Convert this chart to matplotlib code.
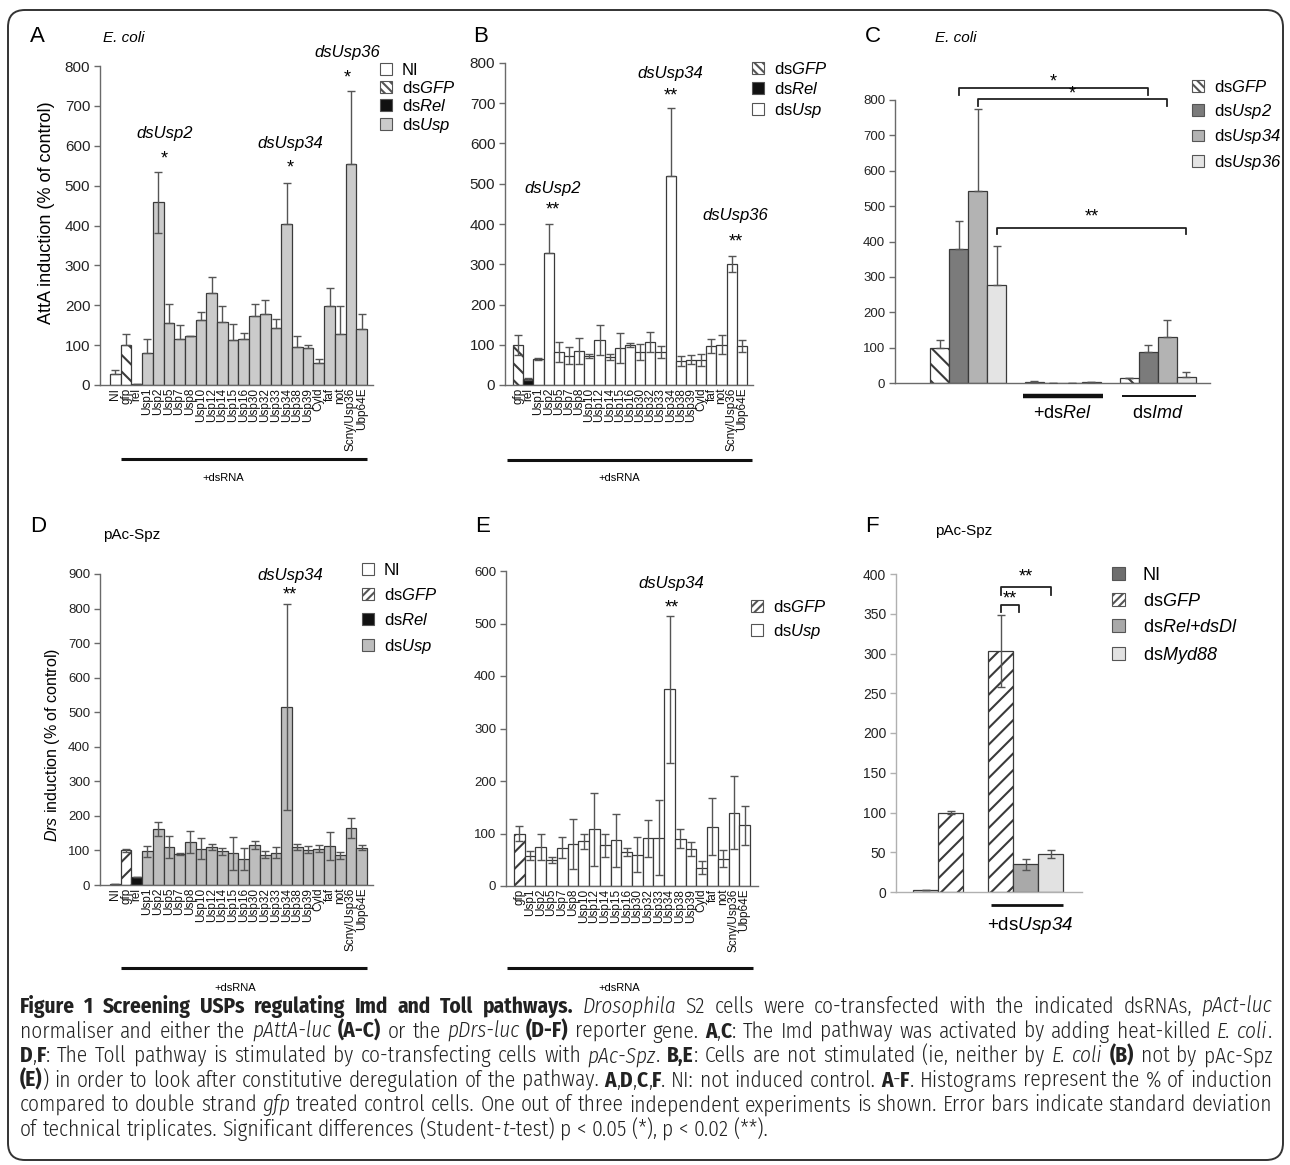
import numpy as np
import matplotlib
matplotlib.use('Agg')
import matplotlib.pyplot as plt
from matplotlib.patches import Patch, FancyBboxPatch
from matplotlib.transforms import IdentityTransform
from matplotlib import font_manager

W, H = 1290, 1165

plt.rcParams['font.family'] = ['Liberation Sans', 'DejaVu Sans']
plt.rcParams['mathtext.fontset'] = 'custom'
plt.rcParams['mathtext.rm'] = 'Liberation Sans'
plt.rcParams['mathtext.it'] = 'Liberation Sans:italic'
plt.rcParams['mathtext.sf'] = 'Liberation Sans:italic'   # used for italic gene names (digits too)
plt.rcParams['mathtext.bf'] = 'Liberation Sans:bold'
plt.rcParams['hatch.linewidth'] = 1.5

# ---------------- data ----------------
genes_A = ['NI', 'gfp', 'rel', 'Usp1', 'Usp2', 'Usp5', 'Usp7', 'Usp8', 'Usp10', 'Usp12',
           'Usp14', 'Usp15', 'Usp16', 'Usp30', 'Usp32', 'Usp33', 'Usp34', 'Usp38', 'Usp39',
           'Cyld', 'faf', 'not', 'Scny/Usp36', 'Ubp64E']
A_vals = [27, 100, 3, 80, 458, 156, 115, 122, 162, 230, 159, 113, 115, 172, 177, 143, 405,
          95, 93, 55, 197, 128, 555, 140]
A_err_up = [10, 28, 0, 36, 76, 46, 35, 0, 22, 40, 38, 40, 16, 30, 35, 22, 101, 27, 7, 11,
            46, 69, 182, 38]
A_err_lo = [0, 0, 0, 0, 77, 0, 0, 0, 0, 0, 0, 0, 0, 0, 0, 0, 0, 0, 0, 0, 0, 0, 0, 0]

genes_B = genes_A[1:]
B_vals = [100, 15, 65, 327, 82, 73, 85, 73, 112, 70, 91, 100, 82, 106, 82, 520, 60, 63, 62,
          97, 100, 300, 97]
B_err_up = [25, 2, 2, 73, 25, 22, 33, 5, 37, 8, 37, 5, 20, 25, 15, 168, 12, 12, 15, 17, 24,
            20, 15]
B_err_lo = [25, 2, 2, 0, 25, 22, 33, 5, 37, 8, 37, 5, 20, 25, 15, 0, 12, 12, 15, 17, 24,
            20, 15]

C_groups = ['', '+ds$\\mathsf{Rel}$', 'ds$\\mathsf{Imd}$']
C_series = ['ds$\\mathsf{GFP}$', 'ds$\\mathsf{Usp2}$', 'ds$\\mathsf{Usp34}$', 'ds$\\mathsf{Usp36}$']
C_vals = [[100, 3, 15], [380, 0, 89], [544, 0, 130], [276, 2, 16]]
C_err = [[22, 2, 0], [78, 0, 19], [231, 0, 49], [112, 0, 14]]

genes_D = genes_A
D_vals = [3, 100, 22, 98, 162, 110, 90, 125, 105, 110, 97, 92, 75, 115, 87, 93, 515, 110,
          102, 105, 112, 86, 165, 108]
D_err = [0, 5, 0, 16, 21, 33, 3, 31, 30, 8, 10, 48, 32, 12, 10, 16, 298, 8, 10, 10, 40, 10,
         30, 7]

genes_E = ['gfp'] + genes_A[3:]
E_vals = [100, 58, 75, 50, 73, 80, 85, 108, 78, 87, 65, 60, 91, 92, 375, 90, 70, 35, 113,
          52, 140, 116]
E_err = [15, 8, 25, 6, 20, 48, 15, 70, 22, 50, 8, 33, 35, 71, 140, 18, 13, 13, 54, 16, 69,
         37]

F_series = ['NI', 'ds$\\mathsf{GFP}$', 'ds$\\mathsf{Rel}$$\\mathsf{+dsDl}$', 'ds$\\mathsf{Myd88}$']
F_group1 = [2, 100]          # NI, dsGFP
F_group1_err = [0, 2]
F_group2 = [303, 35, 48]     # dsGFP, dsRel+dsDl, dsMyd88 (+dsUsp34)
F_group2_err = [45, 7, 5]

caption_lines = [
    [('Figure 1 Screening USPs regulating Imd and Toll pathways.', 'b'), (' ', 'n'),
     ('Drosophila', 'i'), (' S2 cells were co-transfected with the indicated dsRNAs, ', 'n'),
     ('pAct-luc', 'i')],
    [('normaliser and either the ', 'n'), ('pAttA-luc', 'i'), (' ', 'n'), ('(A-C)', 'b'),
     (' or the ', 'n'), ('pDrs-luc', 'i'), (' ', 'n'), ('(D-F)', 'b'), (' reporter gene. ', 'n'),
     ('A', 'b'), (',', 'n'), ('C', 'b'),
     (': The Imd pathway was activated by adding heat-killed ', 'n'), ('E. coli', 'i'), ('.', 'n')],
    [('D', 'b'), (',', 'n'), ('F', 'b'),
     (': The Toll pathway is stimulated by co-transfecting cells with ', 'n'), ('pAc-Spz', 'i'),
     ('. ', 'n'), ('B,E', 'b'), (': Cells are not stimulated (ie, neither by ', 'n'),
     ('E. coli', 'i'), (' ', 'n'), ('(B)', 'b'), (' not by pAc-Spz', 'n')],
    [('(E)', 'b'), (') in order to look after constitutive deregulation of the pathway. ', 'n'),
     ('A', 'b'), (',', 'n'), ('D', 'b'), (',', 'n'), ('C', 'b'), (',', 'n'), ('F', 'b'),
     ('. NI: not induced control. ', 'n'), ('A', 'b'), ('-', 'n'), ('F', 'b'),
     ('. Histograms represent the % of induction', 'n')],
    [('compared to double strand ', 'n'), ('gfp', 'i'),
     (' treated control cells. One out of three independent experiments is shown. '
      'Error bars indicate standard deviation', 'n')],
    [('of technical triplicates. Significant differences (Student-', 'n'), ('t', 'i'),
     ('-test) p < 0.05 (*), p < 0.02 (**).', 'n')],
]

# ---------------- helpers ----------------
AX_COL = '#6a6a6a'
EDGE = '#3a3a3a'
ERR = '#555555'

fig = plt.figure(figsize=(W / 100, H / 100), dpi=100)


def px_axes(l, t, r, b):
    return fig.add_axes([l / W, 1 - b / H, (r - l) / W, (b - t) / H])


def ftext(x, y, s, **kw):
    return fig.text(x / W, 1 - y / H, s, **kw)


def base_axes(ax, ymax, step, ysize, col=AX_COL):
    for s in ('top', 'right'):
        ax.spines[s].set_visible(False)
    for s in ('left', 'bottom'):
        ax.spines[s].set_color(col)
        ax.spines[s].set_linewidth(1.0)
    ax.set_ylim(0, ymax)
    ax.set_yticks(np.arange(0, ymax + 1, step))
    ax.tick_params(axis='y', length=4, width=1, color=col, labelsize=ysize,
                   labelcolor='#222222', pad=3)
    ax.tick_params(axis='x', length=0, pad=2, labelcolor='#111111')
    ax.patch.set_alpha(0)


def screen_bars(ax, genes, vals, lo, up, usp_col, gfp_hatch, xlim):
    x = np.arange(len(genes))
    fills, hatches = [], []
    for g in genes:
        if g == 'NI':
            fills.append('white'); hatches.append('')
        elif g == 'gfp':
            fills.append('white'); hatches.append(gfp_hatch)
        elif g == 'rel':
            fills.append('#111111'); hatches.append('')
        else:
            fills.append(usp_col); hatches.append('')
    bars = ax.bar(x, vals, width=1.0, color=fills, edgecolor=EDGE, linewidth=0.9, zorder=2)
    for b, h in zip(bars, hatches):
        b.set_hatch(h)
    ax.errorbar(x, vals, yerr=[lo, up], fmt='none', ecolor=ERR, elinewidth=1,
                capsize=3, capthick=1, zorder=3)
    ax.set_xticks(x)
    ax.set_xticklabels(genes, rotation=90, fontsize=8.5)
    ax.set_xlim(*xlim)
    return x


def mark(ax, xi, label, star, ylab, ystar, size=12):
    if label:
        ax.text(xi, ylab, label, style='italic', ha='center', va='center', fontsize=size,
                clip_on=False)
    ax.text(xi, ystar, star, ha='center', va='center', fontsize=13, clip_on=False)


def underline(ax, x0, x1, y, lw, label, lx, ly, size=8):
    tr = ax.get_xaxis_transform()
    ax.plot([x0, x1], [y, y], color='#111111', lw=lw, transform=tr, clip_on=False,
            solid_capstyle='butt')
    ax.text(lx, ly, label, transform=tr, ha='center', va='center', fontsize=size)


def legend(ax, items, x, y, size, spacing, pad=0.6):
    handles = [Patch(facecolor=f, edgecolor='#555555', hatch=h, linewidth=0.8, label=l)
               for l, f, h in items]
    ax.legend(handles=handles, loc='upper left', bbox_to_anchor=(x / W, 1 - y / H),
              bbox_transform=fig.transFigure, frameon=False, fontsize=size,
              handlelength=0.7, handleheight=0.7, handletextpad=pad,
              labelspacing=spacing, borderpad=0, borderaxespad=0)


def bracket(ax, x0, x1, y, leg, star, ystar):
    ax.plot([x0, x0, x1, x1], [y - leg, y, y, y - leg], color='#222222', lw=1.3,
            clip_on=False)
    ax.text((x0 + x1) / 2, ystar, star, ha='center', va='center', fontsize=13, clip_on=False)


# ---------------- panel A ----------------
axA = px_axes(100, 66, 373, 385)
base_axes(axA, 800, 100, 11)
xA = screen_bars(axA, genes_A, A_vals, A_err_lo, A_err_up, '#cbcbcb', '\\\\', (-1.43, 24.06))
mark(axA, xA[genes_A.index('Usp2')] + 0.6, 'dsUsp2', '*', 630, 566)
mark(axA, xA[genes_A.index('Usp34')] + 0.3, 'dsUsp34', '*', 605, 545)
mark(axA, xA[genes_A.index('Scny/Usp36')] - 0.3, 'dsUsp36', '*', 833, 771)
underline(axA, 0.5, 23.5, -0.232, 2.2, '+dsRNA', 10.1, -0.29)
legend(axA, [('NI', 'white', ''), ('ds$\\mathsf{GFP}$', 'white', '\\\\\\\\'),
             ('ds$\\mathsf{Rel}$', '#111111', ''), ('ds$\\mathsf{Usp}$', '#cbcbcb', '')],
       380, 63, 12, 0.12)
ftext(47, 213, 'AttA induction (% of control)', rotation=90, ha='center', va='center',
      fontsize=13)

# ---------------- panel B ----------------
axB = px_axes(505, 63, 753, 385)
base_axes(axB, 800, 100, 11)
xB = screen_bars(axB, genes_B, B_vals, B_err_lo, B_err_up, 'white', '\\\\', (-1.29, 23.09))
mark(axB, xB[genes_B.index('Usp2')] + 0.4, 'dsUsp2', '**', 489, 436)
mark(axB, xB[genes_B.index('Usp34')], 'dsUsp34', '**', 775, 717)
mark(axB, xB[genes_B.index('Scny/Usp36')] + 0.4, 'dsUsp36', '**', 420, 355)
underline(axB, -1.09, 23.0, -0.232, 2.2, '+dsRNA', 9.9, -0.29)
legend(axB, [('ds$\\mathsf{GFP}$', 'white', '\\\\\\\\'), ('ds$\\mathsf{Rel}$', '#111111', ''),
             ('ds$\\mathsf{Usp}$', 'white', '')], 752, 61, 12, 0.24)

# ---------------- panel C ----------------
axC = px_axes(895, 100, 1210, 383)
base_axes(axC, 800, 100, 9.5)
C_cols = ['white', '#7b7b7b', '#b3b3b3', '#e4e4e4']
C_hatch = ['\\\\', '', '', '']
gx = np.arange(len(C_groups))
bw = 0.2
for k in range(len(C_series)):
    xs = gx + (k - 1.5) * bw
    axC.bar(xs, C_vals[k], width=bw, color=C_cols[k], edgecolor=EDGE, linewidth=0.9,
            hatch=C_hatch[k], zorder=2)
    axC.errorbar(xs, C_vals[k], yerr=[np.zeros(len(gx)), C_err[k]], fmt='none', ecolor=ERR,
                 elinewidth=1, capsize=3, capthick=1, zorder=3)
axC.set_xticks([])
axC.set_xlim(-0.77, 2.55)
bracket(axC, gx[0] - 0.5 * bw, gx[2] - 0.5 * bw, 833, 20, '*', 852)
bracket(axC, gx[0] + 0.5 * bw, gx[2] + 0.5 * bw, 802, 18, '*', 818)
bracket(axC, gx[0] + 1.5 * bw, gx[2] + 1.5 * bw, 438, 18, '**', 470)
trC = axC.get_xaxis_transform()
axC.plot([gx[1] - 0.42, gx[1] + 0.42], [-0.046, -0.046], color='#111111', lw=3.2,
         transform=trC, clip_on=False, solid_capstyle='butt')
axC.plot([gx[2] - 0.38, gx[2] + 0.4], [-0.046, -0.046], color='#111111', lw=1.4,
         transform=trC, clip_on=False, solid_capstyle='butt')
for g in (1, 2):
    axC.text(gx[g], -0.108, C_groups[g], transform=trC, ha='center', va='center', fontsize=13)
legend(axC, [(C_series[k], C_cols[k], C_hatch[k] * 2) for k in range(4)], 1192, 79, 12, 0.4)

# ---------------- panel D ----------------
axD = px_axes(100, 574, 373, 885)
base_axes(axD, 900, 100, 9.5)
xD = screen_bars(axD, genes_D, D_vals, D_err, D_err, '#bdbdbd', '//', (-1.43, 24.06))
mark(axD, xD[genes_D.index('Usp34')] + 0.3, 'dsUsp34', '**', 897, 838)
underline(axD, 0.5, 23.5, -0.266, 2.2, '+dsRNA', 11.2, -0.33)
legend(axD, [('NI', 'white', ''), ('ds$\\mathsf{GFP}$', 'white', '////'),
             ('ds$\\mathsf{Rel}$', '#111111', ''), ('ds$\\mathsf{Usp}$', '#bdbdbd', '')],
       362, 563, 12, 0.54)
ftext(53, 745, '$\\mathsf{Drs}$ induction (% of control)', rotation=90, ha='center',
      va='center', fontsize=11.5)

# ---------------- panel E ----------------
axE = px_axes(506, 571, 758, 886)
base_axes(axE, 600, 100, 9.5)
xE = screen_bars(axE, genes_E, E_vals, E_err, E_err, 'white', '//', (-1.25, 22.25))
mark(axE, xE[genes_E.index('Usp34')] + 0.2, 'dsUsp34', '**', 577, 530)
underline(axE, -1.16, 21.77, -0.26, 2.2, '+dsRNA', 9.3, -0.324)
legend(axE, [('ds$\\mathsf{GFP}$', 'white', '////'), ('ds$\\mathsf{Usp}$', 'white', '')],
       751, 599, 12, 0.42)

# ---------------- panel F ----------------
axF = px_axes(896, 574, 1082, 892)
base_axes(axF, 400, 50, 10, col='#b0b0b0')
F_cols = ['#6e6e6e', 'white', '#a9a9a9', '#e2e2e2']
F_hatch = ['', '//', '', '']
x1 = np.arange(len(F_group1))
x2 = np.arange(len(F_group2)) + len(F_group1) + 1
g1 = axF.bar(x1, F_group1, width=1.0, color=['#dddddd', F_cols[1]], edgecolor=EDGE,
             linewidth=0.9, zorder=2)
g2 = axF.bar(x2, F_group2, width=1.0, color=F_cols[1:], edgecolor=EDGE, linewidth=0.9,
             zorder=2)
g1[1].set_hatch('//')
g2[0].set_hatch('//')
axF.errorbar(x1, F_group1, yerr=F_group1_err, fmt='none', ecolor=ERR, elinewidth=1,
             capsize=3, capthick=1, zorder=3)
axF.errorbar(x2, F_group2, yerr=F_group2_err, fmt='none', ecolor=ERR, elinewidth=1,
             capsize=3, capthick=1, zorder=3)
axF.set_xticks([])
axF.set_xlim(-1.18, 6.26)
bracket(axF, x2[0], x2[1] - 0.25, 361, 9, '**', 369)
bracket(axF, x2[0], x2[2], 384, 10, '**', 396)
trF = axF.get_xaxis_transform()
axF.plot([x2[0] - 0.38, x2[2] + 0.5], [-0.041, -0.041], color='#111111', lw=2,
         transform=trF, clip_on=False, solid_capstyle='butt')
axF.text(x2[1] + 0.18, -0.104, '+ds$\\mathsf{Usp34}$', transform=trF, ha='center',
         va='center', fontsize=13.5)
legend(axF, [(F_series[k], F_cols[k], F_hatch[k] * 2) for k in range(4)], 1112, 567, 13,
       0.5, pad=1.0)

# ---------------- panel letters and conditions ----------------
for lx, ly, letter in [(30, 37, 'A'), (473, 37, 'B'), (865, 37, 'C'),
                       (30, 527, 'D'), (475, 527, 'E'), (865, 527, 'F')]:
    ftext(lx, ly, letter, fontsize=16, ha='left', va='center')
ftext(103, 38, 'E. coli', style='italic', fontsize=11, va='center')
ftext(935, 38, 'E. coli', style='italic', fontsize=11, va='center')
ftext(103, 535, 'pAc-Spz', fontsize=11, va='center')
ftext(935, 531, 'pAc-Spz', fontsize=11, va='center')

# ---------------- border ----------------
fig.patches.append(FancyBboxPatch((8 / 100, 5 / 100), (1283 - 8) / 100, (1158 - 8) / 100,
                                  boxstyle='round,pad=0,rounding_size=0.17',
                                  transform=fig.dpi_scale_trans, fill=False,
                                  edgecolor='#333333', lw=1.4))


# ---------------- caption (justified, mixed styles) ----------------
def font_faces(name):
    return {(int(f.weight) if str(f.weight).isdigit() else 400, f.style)
            for f in font_manager.fontManager.ttflist if f.name == name}


cap_family, STY = 'DejaVu Sans', {'n': {}, 'b': {'fontweight': 'bold'},
                                  'i': {'style': 'italic'}}
for fam in ['Open Sans Condensed', 'Fira Sans Condensed', 'IBM Plex Sans Condensed',
            'Encode Sans Condensed', 'Barlow Semi Condensed']:
    faces = font_faces(fam)
    light = [w for w, s in faces if s == 'normal' and w <= 400]
    ital = [w for w, s in faces if s == 'italic' and w <= 400]
    bold = [w for w, s in faces if s == 'normal' and w >= 600]
    if light and ital and bold:
        wn = 300 if 300 in light else max(light)
        wi = 300 if 300 in ital else max(ital)
        wb = 700 if 700 in bold else min(bold)
        cap_family = fam
        STY = {'n': {'fontweight': wn}, 'b': {'fontweight': wb},
               'i': {'style': 'italic', 'fontweight': wi}}
        break

renderer = fig.canvas.get_renderer()


def measure(s, st, size):
    t = fig.text(0, 0, s, fontsize=size, family=cap_family, transform=IdentityTransform(),
                 **STY[st])
    w = t.get_window_extent(renderer).width
    t.remove()
    return w


def split_words(runs):
    words = [[]]
    for text, st in runs:
        parts = text.split(' ')
        for k, p in enumerate(parts):
            if k > 0:
                words.append([])
            if p:
                words[-1].append((p, st))
    return [w for w in words if w]


cx0, cx1 = 20, 1272
base = 10.0
space0 = measure('a a', 'n', base) - measure('aa', 'n', base)
widest = 0
for runs in caption_lines:
    ws = split_words(runs)
    tot = sum(measure(p, st, base) for w in ws for p, st in w) + space0 * (len(ws) - 1)
    widest = max(widest, tot)
cap_size = min(16.5, base * (cx1 - cx0) / widest * 0.995)
space = measure('a a', 'n', cap_size) - measure('aa', 'n', cap_size)

for li, runs in enumerate(caption_lines):
    ws = split_words(runs)
    wwidths = [[measure(p, st, cap_size) for p, st in w] for w in ws]
    total = sum(sum(w) for w in wwidths)
    if li < len(caption_lines) - 1 and len(ws) > 1:
        gap = (cx1 - cx0 - total) / (len(ws) - 1)
    else:
        gap = space
    ybase = H - (1008 + li * 24.6 + 5)
    x = cx0
    for w, wl in zip(ws, wwidths):
        for (p, st), pw in zip(w, wl):
            fig.text(x, ybase, p, fontsize=cap_size, family=cap_family, va='baseline',
                     ha='left', transform=IdentityTransform(), color='#222222', **STY[st])
            x += pw
        x += gap

fig.savefig('out.png', dpi=100)
